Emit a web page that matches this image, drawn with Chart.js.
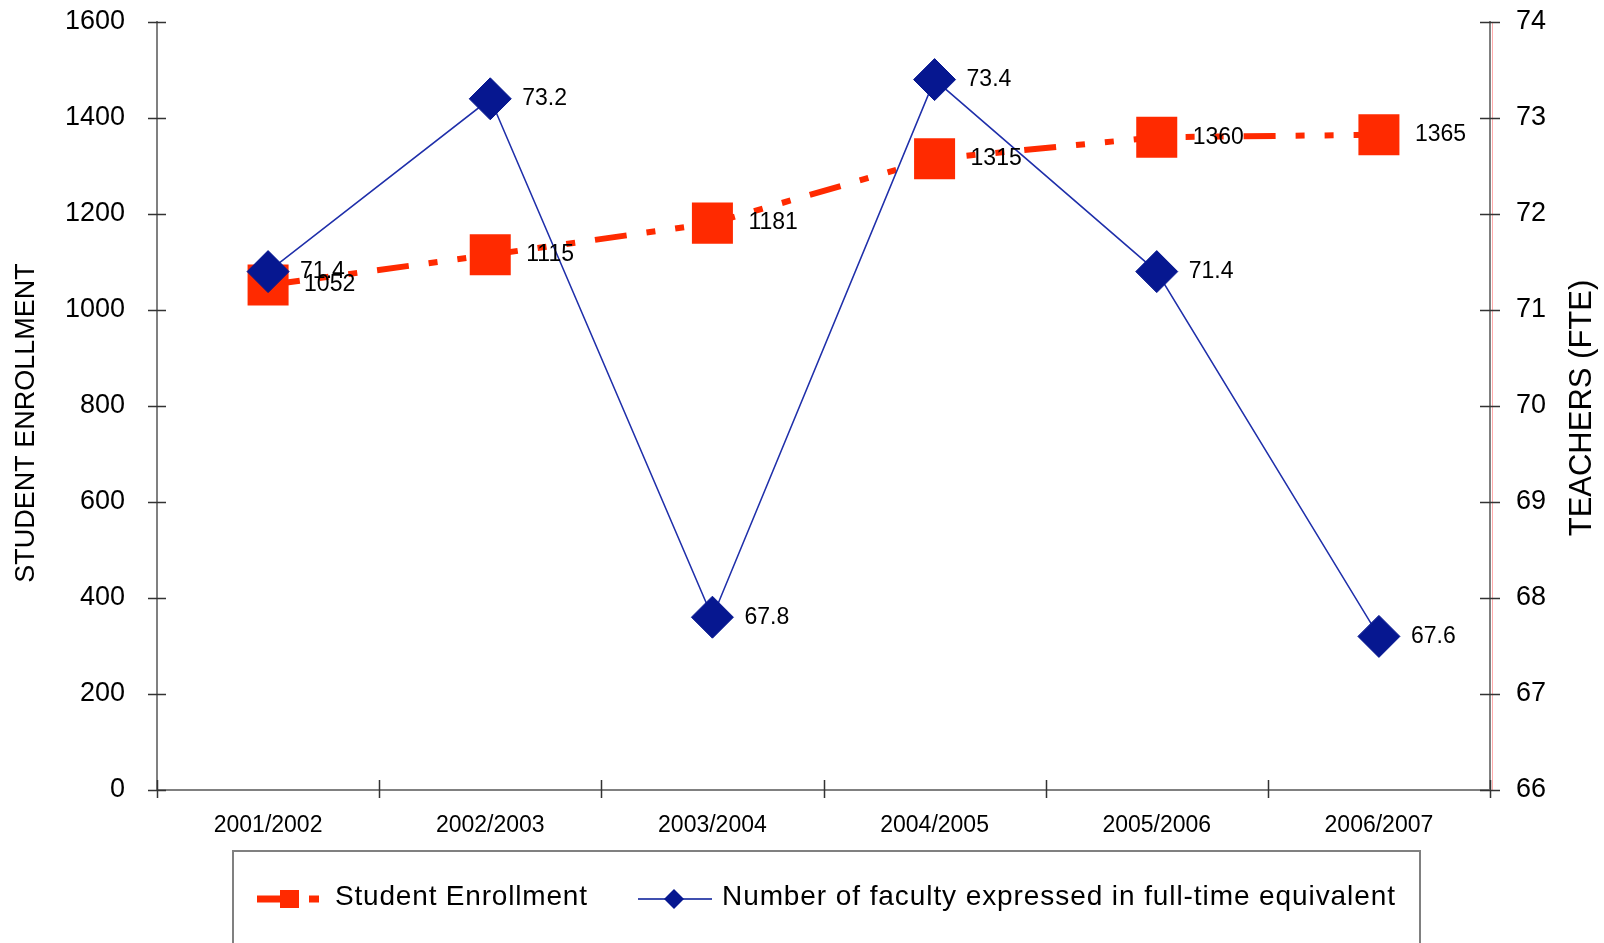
<!DOCTYPE html>
<html>
<head>
<meta charset="utf-8">
<script src="https://cdn.jsdelivr.net/npm/chart.js@4"></script>
<style>
  html, body { margin: 0; padding: 0; background: #fff; }
  #wrap { width: 1604px; height: 943px; }
</style>
</head>
<body>
<div id="wrap"><canvas id="enrollment-chart" width="1604" height="943"></canvas></div>
<script>
const categories = ['2001/2002', '2002/2003', '2003/2004', '2004/2005', '2005/2006', '2006/2007'];
const enrollment = [1052, 1115, 1181, 1315, 1360, 1365];
const faculty = [71.4, 73.2, 67.8, 73.4, 71.4, 67.6];
const enrollmentTicks = { min: 0, max: 1600, step: 200 };
const facultyTicks = { min: 66, max: 74, step: 1 };

const FONT = '"Liberation Sans", Arial, sans-serif';
const RED = '#ff2a00';
const NAVY = '#061790';

// tick marks crossing the axes, axis titles, value labels and the boxed legend
const decorations = {
  id: 'decorations',
  afterDraw(chart) {
    const ctx = chart.ctx;
    const area = chart.chartArea;
    const { y, y1 } = chart.scales;

    ctx.save();
    // faint red companion line on the right axis
    ctx.strokeStyle = 'rgba(255, 90, 90, 0.5)';
    ctx.lineWidth = 1;
    ctx.beginPath();
    ctx.moveTo(area.right + 2.5, area.top);
    ctx.lineTo(area.right + 2.5, area.bottom);
    ctx.stroke();

    ctx.strokeStyle = '#333';
    ctx.lineWidth = 1.5;
    ctx.beginPath();
    y.ticks.forEach(t => {
      const py = Math.round(y.getPixelForValue(t.value)) + 0.5;
      ctx.moveTo(area.left - 9, py);
      ctx.lineTo(area.left + 9, py);
    });
    y1.ticks.forEach(t => {
      const py = Math.round(y1.getPixelForValue(t.value)) + 0.5;
      ctx.moveTo(area.right - 10, py);
      ctx.lineTo(area.right + 10, py);
    });
    const w = (area.right - area.left) / categories.length;
    for (let i = 0; i <= categories.length; i++) {
      const px = Math.round(area.left + i * w) + 0.5;
      ctx.moveTo(px, area.bottom - 10);
      ctx.lineTo(px, area.bottom + 8);
    }
    ctx.stroke();

    // axis titles
    ctx.fillStyle = '#000';
    ctx.textAlign = 'center';
    ctx.textBaseline = 'middle';
    ctx.save();
    ctx.translate(27, 423);
    ctx.rotate(-Math.PI / 2);
    ctx.font = '27px ' + FONT;
    ctx.fillText('STUDENT ENROLLMENT', 0, 0);
    ctx.restore();
    ctx.save();
    ctx.translate(1582, 408);
    ctx.rotate(-Math.PI / 2);
    ctx.font = '31px ' + FONT;
    ctx.fillText('TEACHERS (FTE)', 0, 0);
    ctx.restore();

    // value labels
    ctx.font = '23px ' + FONT;
    ctx.textAlign = 'left';
    chart.data.datasets.forEach((ds, i) => {
      const meta = chart.getDatasetMeta(i);
      const dx = ds.yAxisID === 'y' ? 36 : 32;
      meta.data.forEach((pt, j) => {
        ctx.fillText(String(ds.data[j]), pt.x + dx, pt.y);
      });
    });

    // legend box
    ctx.strokeStyle = '#808080';
    ctx.lineWidth = 2;
    ctx.strokeRect(233, 851, 1420 - 233, 140);

    const ly = 899;
    ctx.fillStyle = RED;
    ctx.fillRect(257, ly - 3.5, 23, 7);
    ctx.fillRect(280, ly - 9, 19, 18);
    ctx.fillRect(309, ly - 3.5, 10, 7);

    ctx.strokeStyle = '#4050b0';
    ctx.lineWidth = 2;
    ctx.beginPath();
    ctx.moveTo(638, ly);
    ctx.lineTo(712, ly);
    ctx.stroke();
    ctx.fillStyle = NAVY;
    ctx.beginPath();
    ctx.moveTo(664, ly);
    ctx.lineTo(674, ly - 10);
    ctx.lineTo(684, ly);
    ctx.lineTo(674, ly + 10);
    ctx.closePath();
    ctx.fill();

    ctx.fillStyle = '#000';
    ctx.font = '28px ' + FONT;
    drawSpread(ctx, chart.data.datasets[1].label, 335, 897, 252);
    drawSpread(ctx, chart.data.datasets[0].label, 722, 897, 673);
    ctx.restore();
  }
};

// spreads a legend entry over its width with letter spacing
function drawSpread(ctx, text, x, y, target) {
  const natural = ctx.measureText(text).width;
  const gap = (target - natural) / (text.length - 1);
  let cx = x;
  for (const ch of text) {
    ctx.fillText(ch, cx, y);
    cx += ctx.measureText(ch).width + gap;
  }
}

const plainNumber = (value) => String(value);

new Chart(document.getElementById('enrollment-chart'), {
  type: 'line',
  data: {
    labels: categories,
    datasets: [{
      label: 'Number of faculty expressed in full-time equivalent',
      data: faculty,
      yAxisID: 'y1',
      order: 1,
      borderColor: '#1f2faa',
      borderWidth: 1.5,
      pointStyle: 'rectRot',
      pointRadius: 21,
      pointBackgroundColor: NAVY,
      pointBorderColor: NAVY,
      pointBorderWidth: 1,
      tension: 0
    }, {
      label: 'Student Enrollment',
      data: enrollment,
      yAxisID: 'y',
      order: 2,
      borderColor: RED,
      borderWidth: 6,
      borderDash: [32, 20, 9, 20, 9, 20],
      pointStyle: 'rect',
      pointRadius: 29,
      pointBackgroundColor: RED,
      pointBorderWidth: 0,
      tension: 0
    }]
  },
  options: {
    responsive: false,
    devicePixelRatio: 1,
    animation: false,
    events: [],
    layout: { autoPadding: false, padding: { top: 22, left: 0, right: 0, bottom: 0 } },
    plugins: {
      legend: { display: false },
      tooltip: { enabled: false }
    },
    scales: {
      x: {
        type: 'category',
        offset: true,
        grid: { display: false, drawTicks: false },
        border: { display: true, color: '#808080', width: 2 },
        ticks: {
          color: '#000',
          font: { family: FONT, size: 23 },
          padding: 22,
          maxRotation: 0,
          autoSkip: false
        },
        afterFit: (scale) => { scale.height = 153; }
      },
      y: {
        position: 'left',
        min: enrollmentTicks.min,
        max: enrollmentTicks.max,
        grid: { display: false, drawTicks: false },
        border: { display: true, color: '#808080', width: 2 },
        ticks: {
          stepSize: enrollmentTicks.step,
          color: '#000',
          font: { family: FONT, size: 27 },
          padding: 32,
          callback: plainNumber
        },
        afterFit: (scale) => { scale.width = 157; scale.paddingTop = 0; scale.paddingBottom = 0; }
      },
      y1: {
        position: 'right',
        min: facultyTicks.min,
        max: facultyTicks.max,
        grid: { display: false, drawTicks: false },
        border: { display: true, color: '#808080', width: 2 },
        ticks: {
          stepSize: facultyTicks.step,
          color: '#000',
          font: { family: FONT, size: 27 },
          padding: 26,
          callback: plainNumber
        },
        afterFit: (scale) => { scale.width = 114; scale.paddingTop = 0; scale.paddingBottom = 0; }
      }
    }
  },
  plugins: [decorations]
});
</script>
</body>
</html>
